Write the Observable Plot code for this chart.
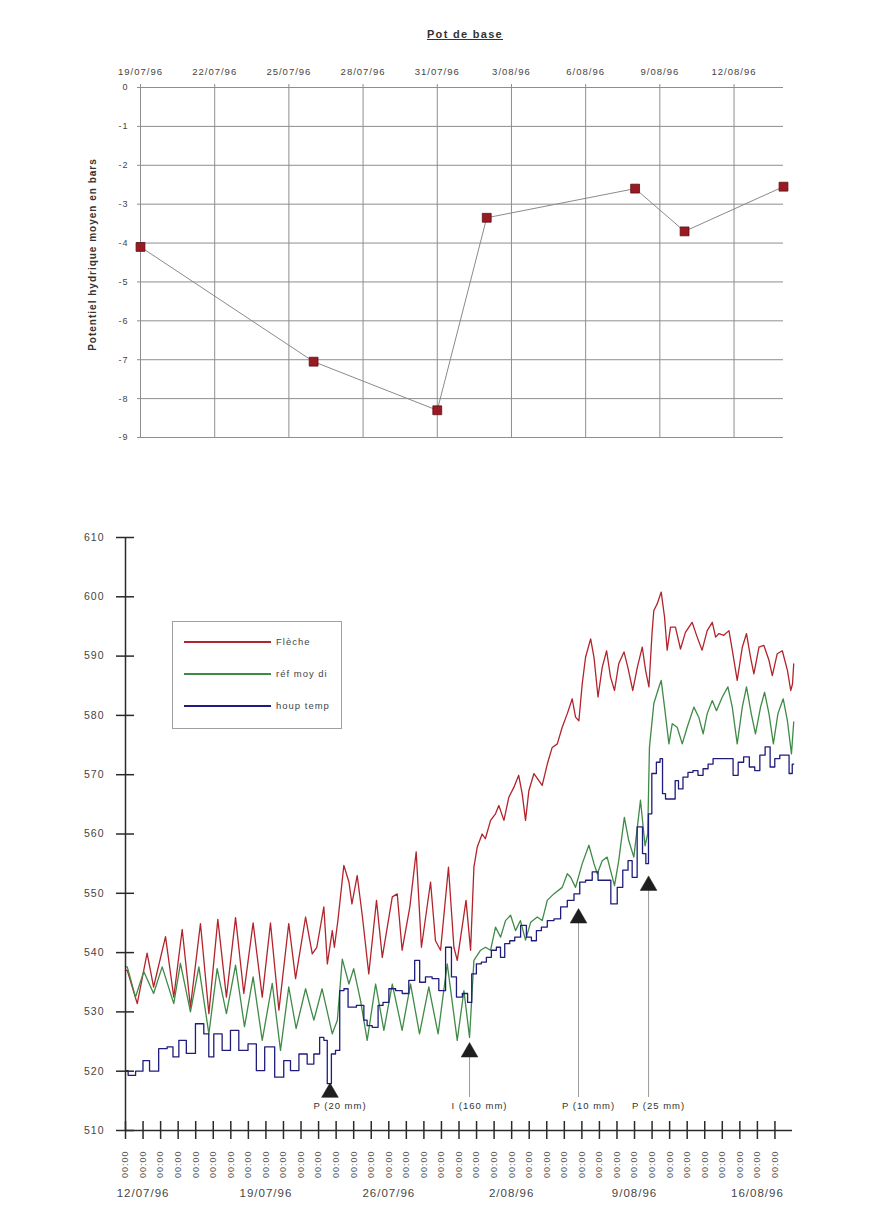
<!DOCTYPE html>
<html lang="fr">
<head>
<meta charset="utf-8">
<script src="https://cdn.jsdelivr.net/npm/d3@7"></script>
<script src="https://cdn.jsdelivr.net/npm/@observablehq/plot@0.6"></script>
<style>
  body { margin: 0; background: #fff; font-family: "Liberation Sans", Arial, sans-serif; }
  #page { position: relative; width: 892px; height: 1220px; overflow: hidden; }
  #titre { position: absolute; left: 465px; top: 28px; transform: translateX(-50%);
           font-size: 11px; font-weight: bold; text-decoration: underline; letter-spacing: 1.3px; color: #333; }
  #haut { position: absolute; left: 0; top: 0; }
  #bas { position: absolute; left: 0; top: 480px; }
  #legende { position: absolute; left: 172px; top: 621px; width: 168px; height: 106px;
             border: 1px solid #a0a0a0; background: #fff; }
  .ligne { position: absolute; left: 11px; width: 87px; height: 0; border-top: 2px solid; }
  .nom { position: absolute; left: 103px; font-size: 9.5px; letter-spacing: 1px; color: #444; line-height: 12px; }
  svg text { letter-spacing: 1px; }
</style>
</head>
<body>
<div id="page">
  <div id="haut"></div>
  <div id="titre">Pot de base</div>
  <div id="bas"></div>
  <div id="legende"></div>
</div>
<script>
// ---- Potentiel hydrique moyen (bars), pot de base ----
const potDates   = ["1996-07-19", "1996-07-26", "1996-07-31", "1996-08-02", "1996-08-08", "1996-08-10", "1996-08-14"];
const potValeurs = [-4.1, -7.05, -8.3, -3.35, -2.6, -3.7, -2.55];
const hautTicksX = ["1996-07-19", "1996-07-22", "1996-07-25", "1996-07-28", "1996-07-31",
                    "1996-08-03", "1996-08-06", "1996-08-09", "1996-08-12"];
const hautDomaineX = ["1996-07-19", "1996-08-14"];
const hautTicksY = [0, -1, -2, -3, -4, -5, -6, -7, -8, -9];

// ---- Séries horaires : [jours depuis le 11/07/96 00:00, valeur] ----
const fleche = [
  [0.00,537.0],[0.10,537.0],[0.67,531.4],[1.23,539.9],[1.60,534.2],[2.28,542.7],[2.75,532.5],[3.23,543.9],
  [3.70,530.8],[4.27,544.9],[4.75,529.7],[5.26,545.6],[5.75,532.5],[6.27,545.9],[6.74,533.1],[7.27,545.0],
  [7.79,532.5],[8.26,545.0],[8.74,530.3],[9.30,544.9],[9.69,535.6],[10.26,546.0],[10.64,539.8],[10.90,540.9],
  [11.30,547.7],[11.50,538.1],[11.78,543.7],[11.90,540.9],[12.10,545.4],[12.44,554.7],[12.73,551.9],[12.90,548.2],
  [13.20,553.0],[13.50,546.0],[13.86,536.4],[14.30,548.8],[14.63,539.2],[15.20,549.4],[15.48,549.9],[15.76,540.4],
  [16.20,547.7],[16.56,557.0],[16.86,540.9],[17.38,551.9],[17.66,542.0],[17.95,540.4],[18.40,554.4],[18.71,540.9],
  [18.90,538.7],[19.40,548.8],[19.66,540.4],[19.85,554.4],[20.04,557.8],[20.32,560.0],[20.50,559.2],[20.80,562.3],
  [21.08,563.4],[21.27,564.8],[21.56,562.3],[21.84,566.2],[22.13,567.9],[22.40,569.9],[22.60,566.8],[22.79,562.3],
  [22.98,567.3],[23.27,570.2],[23.55,569.0],[23.74,568.2],[24.03,571.8],[24.31,574.6],[24.60,575.2],[24.88,578.0],
  [25.17,580.3],[25.45,582.8],[25.64,579.7],[25.83,579.1],[26.02,585.3],[26.21,589.8],[26.50,592.9],[26.69,589.8],
  [26.92,583.1],[27.16,588.1],[27.41,590.9],[27.63,586.5],[27.86,584.2],[28.10,588.7],[28.40,590.7],[28.62,588.1],
  [28.90,584.2],[29.16,588.1],[29.44,591.5],[29.63,587.6],[29.82,584.8],[30.00,594.0],[30.10,597.7],[30.29,598.8],
  [30.52,600.8],[30.71,596.6],[30.86,591.0],[31.05,594.9],[31.33,594.9],[31.62,591.2],[31.90,594.0],[32.28,595.7],
  [32.57,593.2],[32.85,591.0],[33.14,594.3],[33.43,595.7],[33.62,593.2],[33.81,593.8],[34.09,593.5],[34.38,594.3],
  [34.57,591.0],[34.85,585.9],[35.14,591.5],[35.38,593.8],[35.61,589.8],[35.80,587.0],[36.09,591.5],[36.37,591.8],
  [36.66,589.3],[36.85,586.7],[37.13,590.4],[37.42,590.9],[37.71,587.6],[37.90,584.2],[38.00,585.3],[38.07,588.7]
];
const refMoyDi = [
  [0.00,537.6],[0.10,537.6],[0.57,532.5],[1.04,536.8],[1.60,533.1],[2.09,537.6],[2.75,531.4],[3.13,538.2],
  [3.70,530.0],[4.18,537.6],[4.75,526.3],[5.22,537.3],[5.75,529.7],[6.27,537.9],[6.78,527.5],[7.27,535.9],
  [7.79,525.2],[8.36,534.8],[8.83,523.5],[9.30,534.2],[9.72,527.2],[10.26,533.9],[10.73,528.6],[11.20,533.9],
  [11.78,526.3],[12.07,528.6],[12.35,538.9],[12.73,534.7],[13.00,537.3],[13.39,531.9],[13.77,525.2],[14.25,534.7],
  [14.72,526.9],[15.20,534.7],[15.76,526.9],[16.24,534.7],[16.75,526.3],[17.28,534.2],[17.81,526.3],[18.33,538.1],
  [18.90,525.2],[19.28,533.6],[19.60,525.7],[19.85,538.7],[20.23,540.4],[20.51,540.9],[20.80,540.4],[21.08,544.3],
  [21.37,542.6],[21.65,545.4],[21.94,546.3],[22.22,543.7],[22.50,545.4],[22.79,542.1],[23.08,545.1],[23.46,546.0],
  [23.74,545.4],[24.03,548.8],[24.40,549.9],[24.88,551.0],[25.17,553.3],[25.36,552.7],[25.64,551.0],[26.02,555.0],
  [26.40,558.1],[26.69,555.0],[26.88,553.3],[27.16,555.5],[27.44,556.1],[27.63,553.9],[27.86,551.3],[28.10,555.5],
  [28.42,562.8],[28.67,558.9],[28.96,556.1],[29.34,565.7],[29.60,558.0],[29.75,560.0],[29.85,574.6],[30.10,582.0],
  [30.39,584.8],[30.52,585.9],[30.71,581.4],[30.96,575.2],[31.15,578.6],[31.43,578.0],[31.72,575.2],[32.00,578.0],
  [32.38,581.4],[32.66,579.7],[32.91,576.9],[33.14,580.3],[33.43,582.5],[33.67,580.8],[34.00,583.1],[34.32,584.8],
  [34.57,581.4],[34.85,575.2],[35.14,581.4],[35.38,584.8],[35.65,580.3],[35.89,576.9],[36.18,581.4],[36.41,583.9],
  [36.66,580.3],[36.91,575.2],[37.17,580.3],[37.47,582.8],[37.71,579.1],[37.94,573.5],[38.07,578.9]
];
const houpTemp = [
  [0.00,520.1],[0.30,519.3],[0.85,520.0],[1.14,521.8],[1.60,520.0],[2.18,523.8],[2.56,524.1],[2.85,522.4],
  [3.23,525.2],[3.70,523.0],[4.27,528.0],[4.65,526.3],[4.84,522.4],[5.22,526.3],[5.79,523.5],[6.17,526.9],
  [6.74,523.5],[7.22,524.6],[7.69,520.1],[8.17,524.1],[8.83,519.0],[9.20,521.8],[9.60,520.1],[10.16,522.9],
  [10.54,521.2],[10.92,522.9],[11.20,525.7],[11.40,525.2],[11.59,517.9],[11.87,522.9],[12.06,523.5],[12.35,533.6],
  [12.54,533.9],[12.82,530.8],[13.49,531.1],[13.67,528.6],[13.86,527.7],[14.25,527.4],[14.53,531.1],[14.81,531.6],
  [15.20,533.9],[15.58,533.6],[15.95,533.1],[16.33,535.3],[16.62,538.7],[16.90,535.0],[17.28,535.9],[17.66,535.6],
  [18.04,533.6],[18.43,540.9],[18.71,535.9],[19.00,532.5],[19.38,533.1],[19.60,531.6],[19.85,536.4],[20.13,538.1],
  [20.42,538.4],[20.70,539.2],[20.99,540.4],[21.27,540.9],[21.46,539.2],[21.75,541.5],[22.03,542.0],[22.32,542.6],
  [22.70,544.6],[22.98,542.6],[23.27,542.0],[23.55,543.7],[23.84,544.3],[24.22,545.4],[24.60,545.7],[24.98,547.7],
  [25.36,548.8],[25.74,549.9],[26.02,551.9],[26.40,552.2],[26.78,553.6],[27.06,552.2],[27.44,552.2],[27.86,548.2],
  [28.17,551.0],[28.49,553.9],[28.77,555.5],[28.96,552.7],[29.34,561.2],[29.57,556.7],[29.72,555.0],[29.87,563.4],
  [30.10,570.2],[30.39,572.1],[30.52,572.7],[30.67,566.8],[30.86,565.9],[31.24,565.9],[31.39,569.0],[31.62,567.6],
  [31.90,569.6],[32.19,570.4],[32.47,570.7],[32.76,569.9],[33.05,571.0],[33.33,571.8],[33.62,572.7],[34.00,572.7],
  [34.47,572.7],[34.76,569.9],[35.05,572.1],[35.38,573.0],[35.70,571.3],[36.00,570.7],[36.28,573.3],[36.60,574.7],
  [36.85,571.3],[37.13,572.7],[37.42,573.3],[37.71,573.3],[37.90,570.2],[38.07,571.8]
];

// Apports d'eau : pluie (P) et irrigation (I)
const apportsJours   = [11.65, 19.6, 25.81, 29.8];
const apportsNiveaux = [516.4, 523.2, 545.8, 551.3];
const apportsTextes  = ["P (20 mm)", "I (160 mm)", "P (10 mm)", "P (25 mm)"];

const basOrigine = "1996-07-11";
const basDureeJours = 38;
const basTicksY = [510, 520, 530, 540, 550, 560, 570, 580, 590, 600, 610];
const basDates  = ["1996-07-12", "1996-07-19", "1996-07-26", "1996-08-02", "1996-08-09", "1996-08-16"];

const series = [
  {nom: "Flèche",     couleur: "#b3232b", points: fleche,   courbe: "linear"},
  {nom: "réf moy di", couleur: "#3f8a46", points: refMoyDi, courbe: "linear"},
  {nom: "houp temp",  couleur: "#1f1c7c", points: houpTemp, courbe: "step"}
];

// ---- helpers ----
const jour = s => new Date(s + "T00:00:00Z");
const t0 = jour(basOrigine).getTime();
const versDate = j => new Date(t0 + j * 864e5);
const fmtDate = d3.utcFormat("%-d/%m/%y");
const police = "'Liberation Sans', Arial, sans-serif";
const gris = "#8e8e8e";

// ---- graphique du haut ----
const pot = potDates.map((d, i) => ({date: jour(d), v: potValeurs[i]}));

const haut = Plot.plot({
  width: 892, height: 470,
  marginLeft: 140, marginRight: 109, marginTop: 87, marginBottom: 33,
  style: {fontFamily: police, color: "#444", background: "transparent", overflow: "visible"},
  x: {type: "utc", domain: hautDomaineX.map(jour)},
  y: {domain: [-9, 0], label: null},
  marks: [
    Plot.gridY(hautTicksY, {stroke: gris, strokeOpacity: 1, strokeWidth: 1}),
    Plot.gridX(hautTicksX.map(jour), {stroke: gris, strokeOpacity: 1, strokeWidth: 1}),
    Plot.axisX({ticks: hautTicksX.map(jour), anchor: "top", tickSize: 4, tickPadding: 9,
                tickFormat: fmtDate, fontSize: 9.5, stroke: gris, label: null}),
    Plot.axisY({ticks: hautTicksY, anchor: "left", tickSize: 3, tickPadding: 9,
                tickFormat: d => String(d), fontSize: 9, stroke: gris, label: null}),
    Plot.text(["Potentiel hydrique moyen en bars"], {
      frameAnchor: "left", dx: -48, dy: -8, rotate: -90, text: d => d, textAnchor: "middle",
      fontSize: 10, fontWeight: "bold", fill: "#333"
    }),
    Plot.line(pot, {x: "date", y: "v", stroke: "#8a8a8a", strokeWidth: 1}),
    Plot.dot(pot, {x: "date", y: "v", symbol: "square", r: 5, fill: "#9a1a24", stroke: "#5c1015", strokeWidth: 0.8})
  ]
});
document.getElementById("haut").append(haut);

// ---- graphique du bas ----
const xDomaine = [versDate(0), versDate(basDureeJours)];
const ticksJours = d3.utcDay.range(xDomaine[0], xDomaine[1]);
const apports = apportsJours.map((j, i) => ({date: versDate(j), v: apportsNiveaux[i], texte: apportsTextes[i]}));

const bas = Plot.plot({
  width: 892, height: 740,
  marginLeft: 125, marginRight: 100, marginTop: 57, marginBottom: 90,
  style: {fontFamily: police, color: "#333", background: "transparent", overflow: "visible"},
  x: {type: "utc", domain: xDomaine},
  y: {domain: [510, 610], label: null},
  marks: [
    // annotations des apports
    Plot.ruleX(apports, {x: "date", y1: "v", y2: 510, insetBottom: 33, stroke: "#9a9a9a", strokeWidth: 1}),
    Plot.text(apports, {x: "date", text: "texte", frameAnchor: "bottom", dy: -22, dx: 10,
                        fontSize: 9.5, fill: "#333"}),
    // séries
    ...series.map(s => Plot.line(s.points, {
      x: d => versDate(d[0]), y: d => d[1], stroke: s.couleur, strokeWidth: 1.3, curve: s.courbe
    })),
    Plot.dot(apports, {x: "date", y: "v", symbol: "triangle", r: 6.2, fill: "#1e1e1e", stroke: "#1e1e1e", strokeWidth: 0.5}),
    // axes
    Plot.ruleX([xDomaine[0]], {stroke: "#2a2a2a", strokeWidth: 1.5}),
    Plot.ruleY([510], {stroke: "#2a2a2a", strokeWidth: 1.5}),
    Plot.axisY({ticks: basTicksY, tickSize: 18, dx: 9, fill: "none", stroke: "#2a2a2a", strokeWidth: 1.5, label: null}),
    Plot.axisY({ticks: basTicksY, tickSize: 0, tickPadding: 21, fontSize: 10.5, fill: "#444", label: null}),
    Plot.axisX({ticks: ticksJours, tickSize: 18, dy: -9, fill: "none", stroke: "#2a2a2a", strokeWidth: 1.5, label: null}),
    Plot.axisX({ticks: ticksJours, tickSize: 0, tickPadding: 20, tickRotate: -90,
                tickFormat: d3.utcFormat("%H:%M"), fontSize: 9, fill: "#555", label: null}),
    Plot.axisX({ticks: basDates.map(jour), tickSize: 0, tickPadding: 58,
                tickFormat: fmtDate, fontSize: 11.5, fill: "#444", label: null})
  ]
});
document.getElementById("bas").append(bas);

// ---- légende ----
const legende = document.getElementById("legende");
series.forEach((s, i) => {
  const l = document.createElement("div");
  l.className = "ligne";
  l.style.top = (19 + i * 32) + "px";
  l.style.borderColor = s.couleur;
  legende.append(l);
  const n = document.createElement("div");
  n.className = "nom";
  n.style.top = (14 + i * 32) + "px";
  n.textContent = s.nom;
  legende.append(n);
});
</script>
</body>
</html>
